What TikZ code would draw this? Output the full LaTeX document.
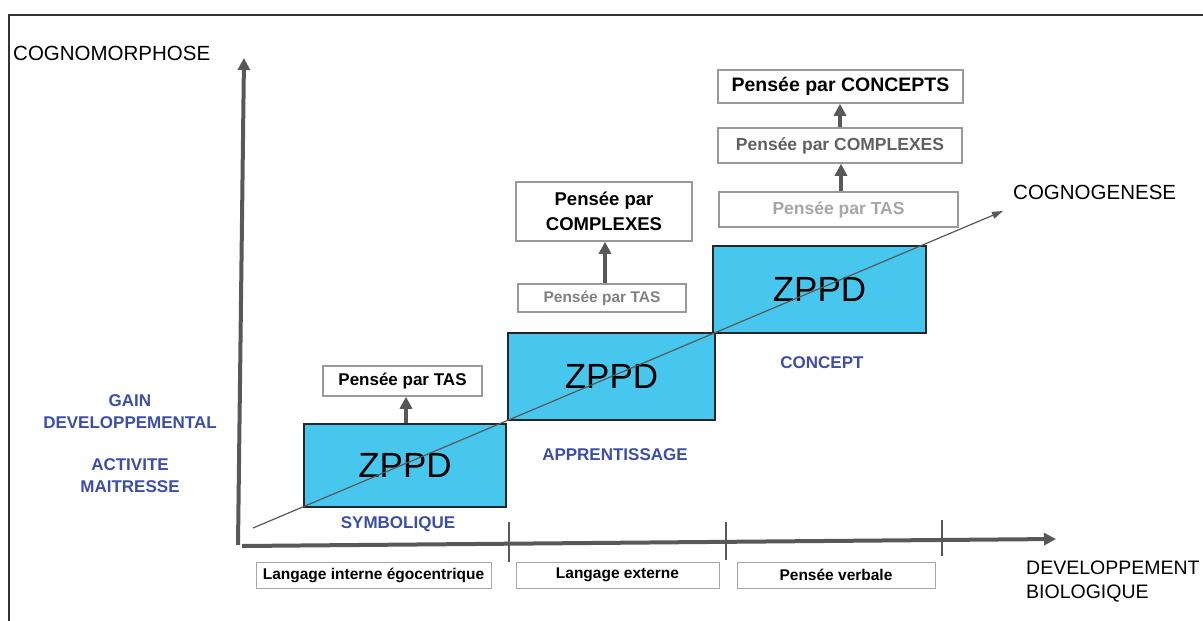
\documentclass[tikz,border=0pt]{standalone}
\usepackage{fontspec}
\setmainfont{Liberation Sans}
\usetikzlibrary{arrows.meta,positioning}
\definecolor{zppdblue}{RGB}{72,199,238}
\definecolor{labelblue}{RGB}{61,77,170}
\definecolor{axisgray}{RGB}{88,88,88}

\begin{document}
\begin{tikzpicture}
		[x=1pt, y=-1pt,
		zone/.style={draw=black!85, line width=1.6pt, fill=zppdblue, inner sep=0pt, font=\fontsize{35}{40}\selectfont},
		pensee/.style={draw=black!40, line width=1.5pt, inner sep=0pt, align=center, font=\bfseries\fontsize{17.5}{22}\selectfont},
		langage/.style={draw=black!35, line width=0.8pt, inner sep=0pt, minimum height=26pt, font=\bfseries\fontsize{15.5}{18}\selectfont},
		periode/.style={text=labelblue, align=center, font=\bfseries\fontsize{17}{22}\selectfont},
		titre/.style={inner sep=0pt, align=left, font=\fontsize{20.5}{24}\selectfont},
		fleche/.style={draw=axisgray, line width=4pt, -{Triangle[width=12pt,length=12pt]}}]
		\useasboundingbox (0,0) rectangle (1203,621);
		\draw[line width=1.5pt, black!80] (9,621) -- (9,15) -- (1203,15);
		
		\node[zone, minimum width=202pt, minimum height=83pt] (z1) at (405,465.5) {ZPPD};
		\node[zone, minimum width=207pt, minimum height=87pt] (z2) at (611.5,376.5) {ZPPD};
		\node[zone, minimum width=213pt, minimum height=87pt] (z3) at (819.5,289.5) {ZPPD};
		
		\node[pensee, minimum width=159pt, minimum height=30pt, font=\bfseries\fontsize{17}{20}\selectfont] (p1) at (402.5,381) {Pensée par TAS};
		\node[pensee, minimum width=168pt, minimum height=28pt, text=black!50, font=\bfseries\fontsize{15.5}{20}\selectfont] (p2) at (602,298) {Pensée par TAS};
		\node[pensee, minimum width=176pt, minimum height=59pt, font=\bfseries\fontsize{18.5}{25}\selectfont] (p3) at (604,211.5) {Pensée par\\COMPLEXES};
		\node[pensee, minimum width=239pt, minimum height=35pt, text=black!35] (p4) at (838.5,209.5) {Pensée par TAS};
		\node[pensee, minimum width=244pt, minimum height=35pt, text=black!62] (p5) at (840,145.5) {Pensée par COMPLEXES};
		\node[pensee, minimum width=245pt, minimum height=33pt, font=\bfseries\fontsize{19.5}{22}\selectfont] (p6) at (840.5,86.5) {Pensée par CONCEPTS};
		
		\node[langage, minimum width=235pt] (l1) at (373.5,575) {Langage interne égocentrique};
		\node[langage, minimum width=203pt] (l2) at (617.5,575) {Langage externe};
		\node[langage, minimum width=198pt] (l3) at (836,575) {Pensée verbale};
		
		\node[periode] (sym) at (398,524) {SYMBOLIQUE};
		\node[periode] (app) at (615,455) {APPRENTISSAGE};
		\node[periode] (con) at (822,363) {CONCEPT};
		\node[periode] (gain) at (130,412) {GAIN\\DEVELOPPEMENTAL};
		\node[periode] (act) at (130,476) {ACTIVITE\\MAITRESSE};
		
		\node[titre, anchor=west] (morph) at (13,53) {COGNOMORPHOSE};
		\node[titre, anchor=west] (gen) at (1013,192) {COGNOGENESE};
		\node[titre, anchor=west, font=\fontsize{19.5}{24}\selectfont] (bio) at (1026,582) {DEVELOPPEMENT\\BIOLOGIQUE};
		
		% axes
		\coordinate (ybas) at (238,545);
		\coordinate (yhaut) at (244,58);
		\coordinate (xgauche) at (242,546);
		\coordinate (xdroite) at (1056,539);
		\draw[fleche] (ybas) -- (yhaut);
		\draw[fleche] (xgauche) -- (xdroite);
		\foreach \t/\a/\b in {509/522/562, 726/522/560, 942/520/556}
			\draw[axisgray, line width=1.3pt] (\t,\a) -- (\t,\b);
		
		\coordinate (dbas) at (253,528);
		\coordinate (dhaut) at (1003,211);
		\draw[axisgray, line width=1.2pt, -{Triangle[width=7pt,length=11pt]}] (dbas) -- (dhaut);
		
		\draw[fleche] (z1.north -| 406,0) -- (406,0 |- p1.south);
		\draw[fleche] (p2.north -| 605,0) -- (605,0 |- p3.south);
		\draw[fleche] (p4.north -| 841,0) -- (841,0 |- p5.south);
		\draw[fleche] (p5.north -| 840,0) -- (840,0 |- p6.south);
		\end{tikzpicture}
\end{document}
